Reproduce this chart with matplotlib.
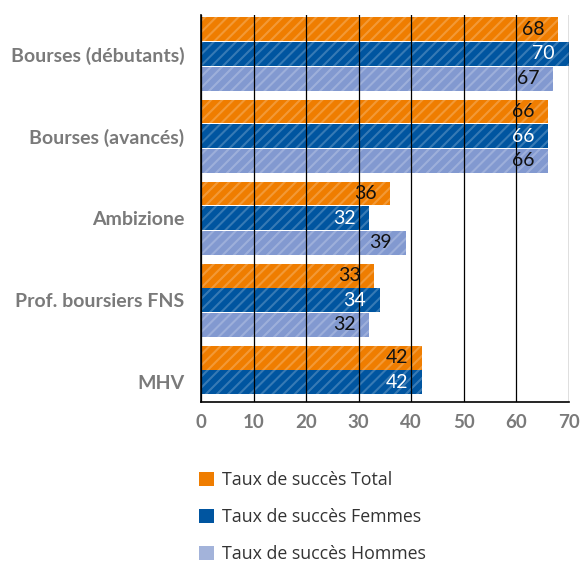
import numpy as np
import matplotlib.pyplot as plt
from matplotlib.patches import Patch

categories = ['Bourses (débutants)', 'Bourses (avancés)', 'Ambizione',
              'Prof. boursiers FNS', 'MHV']
total = [68, 66, 36, 33, 42]
femmes = [70, 66, 32, 34, 42]
hommes = [67, 66, 39, 32, np.nan]   # pas de valeur pour MHV

series = [('Taux de succès Total', total, '#ef7d00', '#111111'),
          ('Taux de succès Femmes', femmes, '#0055a0', 'white'),
          ('Taux de succès Hommes', hommes, '#8299d0', '#111111')]
legend_colors = ['#ef7d00', '#0055a0', '#a3b3da']

plt.rcParams['font.family'] = ['Lato', 'DejaVu Sans']
plt.rcParams['hatch.linewidth'] = 1.5

fig = plt.figure(figsize=(5.81, 5.62), dpi=100)
ax = fig.add_axes([201/581, 1-402/562, 368/581, 387/562])

y = np.arange(len(categories))
h = 0.29
for i, (name, vals, col, tcol) in enumerate(series):
    pos = y + (i-1)*0.3
    ax.barh(pos, vals, height=h, color=col, edgecolor=(1, 1, 1, 0.22),
            linewidth=0, hatch='///', zorder=1)
    for p, v in zip(pos, vals):
        if np.isnan(v):
            continue
        ax.annotate('%d' % v, (v, p), xytext=(-10, 0), textcoords='offset points',
                    ha='right', va='center', fontsize=14, color=tcol, zorder=3)

ax.set_xlim(0, 70)
ax.set_ylim(4.24, -0.475)
ax.set_xticks(range(0, 71, 10))
ax.set_yticks(y)
ax.set_yticklabels(categories, fontsize=14, fontweight='bold', color='#7a7a7a')
ax.tick_params(axis='y', length=0, pad=12)
ax.tick_params(axis='x', length=0, pad=9, labelsize=13.5, labelcolor='#7a7a7a')
for lab in ax.get_xticklabels():
    lab.set_fontweight('bold')
ax.grid(True, axis='x', color='black', lw=0.9, zorder=2)
ax.set_axisbelow(False)
for s in ['top', 'right']:
    ax.spines[s].set_visible(False)
for s in ['left', 'bottom']:
    ax.spines[s].set_color('black')
    ax.spines[s].set_linewidth(1.2)
    ax.spines[s].set_zorder(4)

handles = [Patch(facecolor=c, label=s[0]) for c, s in zip(legend_colors, series)]
fig.legend(handles=handles, loc='upper left', bbox_to_anchor=(199/581, 1-471/562),
           frameon=False, prop={'family': ['Open Sans', 'DejaVu Sans'], 'size': 12.8},
           handlelength=0.83, handleheight=0.83,
           handletextpad=0.45, labelspacing=1.07, borderpad=0, borderaxespad=0,
           labelcolor='#333333')

fig.savefig('out.png', dpi=100)
